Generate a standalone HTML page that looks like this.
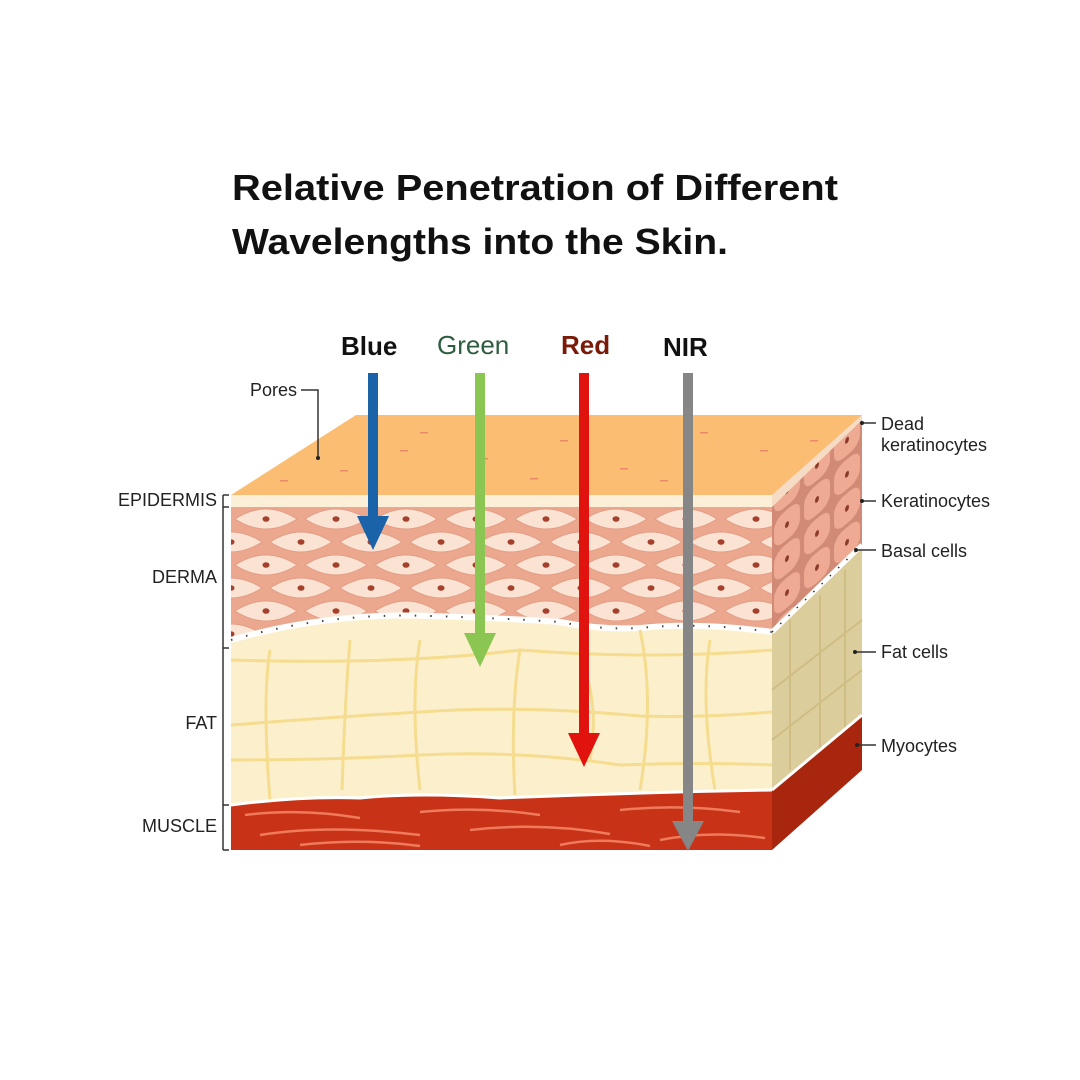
<!DOCTYPE html>
<html><head><meta charset="utf-8"><style>
html,body{margin:0;padding:0;background:#fff;width:1080px;height:1080px;overflow:hidden}
svg{display:block}
</style></head><body>
<svg width="1080" height="1080" viewBox="0 0 1080 1080" xmlns="http://www.w3.org/2000/svg">
<defs>
<pattern id="cells" x="231" y="507" width="70" height="46" patternUnits="userSpaceOnUse">
<rect width="70" height="46" fill="#eba88f"/>
<path d="M4 12 Q35 -8 66 12 Q35 32 4 12Z" fill="#fbe3d3" stroke="#e49c84" stroke-width="1"/>
<path d="M-31 35 Q0 15 31 35 Q0 55 -31 35Z" fill="#fbe3d3" stroke="#e49c84" stroke-width="1"/>
<path d="M39 35 Q70 15 101 35 Q70 55 39 35Z" fill="#fbe3d3" stroke="#e49c84" stroke-width="1"/>
<ellipse cx="35" cy="12" rx="3.5" ry="2.8" fill="#a4402c"/>
<ellipse cx="70" cy="35" rx="3.5" ry="2.8" fill="#a4402c"/>
<ellipse cx="0" cy="35" rx="3.5" ry="2.8" fill="#a4402c"/>
</pattern>
<pattern id="side" x="772" y="420" width="30" height="34" patternUnits="userSpaceOnUse" patternTransform="skewY(-40)">
<rect width="30" height="34" fill="#d08a76"/>
<rect x="2" y="2" width="26" height="30" rx="10" fill="#eeaa92"/>
<ellipse cx="15" cy="17" rx="2" ry="3" fill="#8a3a28"/>
</pattern>
</defs>

<text x="232" y="200" font-family="Liberation Sans, sans-serif" font-weight="bold" font-size="36" fill="#111" textLength="606" lengthAdjust="spacingAndGlyphs">Relative Penetration of Different</text>
<text x="232" y="254" font-family="Liberation Sans, sans-serif" font-weight="bold" font-size="36" fill="#111" textLength="496" lengthAdjust="spacingAndGlyphs">Wavelengths into the Skin.</text>

<g font-family="Liberation Sans, sans-serif" font-weight="bold" font-size="26">
<text x="341" y="355" fill="#111">Blue</text>
<text x="437" y="354" fill="#2e5e40" font-weight="normal">Green</text>
<text x="561" y="354" fill="#7a1a08">Red</text>
<text x="663" y="356" fill="#111">NIR</text>
</g>

<!-- top face -->
<polygon points="231,495 356,415 862,415 772,495" fill="#fbbd72"/>
<g fill="#e88a6a">
<rect x="420" y="432" width="8" height="1.5"/><rect x="560" y="440" width="8" height="1.5"/><rect x="700" y="432" width="8" height="1.5"/>
<rect x="340" y="470" width="8" height="1.5"/><rect x="480" y="458" width="8" height="1.5"/><rect x="620" y="468" width="8" height="1.5"/>
<rect x="760" y="450" width="8" height="1.5"/><rect x="810" y="440" width="8" height="1.5"/><rect x="280" y="480" width="8" height="1.5"/>
<rect x="530" y="478" width="8" height="1.5"/><rect x="660" y="480" width="8" height="1.5"/><rect x="400" y="450" width="8" height="1.5"/>
</g>
<rect x="231" y="495" width="541" height="12" fill="#fcefd8"/>
<path d="M231 507 H772 V632 Q700 622 640 628 Q600 630 560 622 Q500 618 430 616 Q330 612 231 640 Z" fill="url(#cells)"/>
<path d="M231 640 Q330 612 430 616 Q500 618 560 622 Q600 630 640 628 Q700 622 772 632 V790 Q650 792 500 798 Q420 792 360 798 Q300 796 231 805 Z" fill="#fcf0cc"/>
<path d="M231 640 Q330 612 430 616 Q500 618 560 622 Q600 630 640 628 Q700 622 772 632" fill="none" stroke="#fff" stroke-width="6"/>
<path d="M231 640 Q330 612 430 616 Q500 618 560 622 Q600 630 640 628 Q700 622 772 632" fill="none" stroke="#444" stroke-width="2" stroke-dasharray="1.5 14"/>
<g stroke="#f5dc8e" stroke-width="3" fill="none">
<path d="M231 660 Q400 665 520 650 Q650 660 772 650"/>
<path d="M231 725 Q350 716 420 712 Q520 705 640 716 Q700 718 772 712"/>
<path d="M231 760 Q330 760 420 755 Q520 750 620 765 Q700 762 772 765"/>
<path d="M270 650 Q262 700 270 800"/>
<path d="M350 640 Q345 700 342 790"/>
<path d="M420 640 Q410 700 420 790"/>
<path d="M520 650 Q510 710 515 795"/>
<path d="M580 660 Q600 700 590 760"/>
<path d="M640 630 Q655 700 640 790"/>
<path d="M710 640 Q700 700 715 790"/>
</g>
<path d="M231 805 Q300 796 360 798 Q420 792 500 798 Q650 792 772 790 V850 H231 Z" fill="#c83216"/>
<path d="M231 805 Q300 796 360 798 Q420 792 500 798 Q650 792 772 790" fill="none" stroke="#fff" stroke-width="3"/>
<g stroke="#ef7a5c" stroke-width="2.5" fill="none">
<path d="M245 815 Q300 808 360 818"/><path d="M420 812 Q480 806 540 815"/>
<path d="M260 835 Q330 824 420 835"/><path d="M470 830 Q540 822 610 834"/>
<path d="M620 810 Q680 804 740 812"/><path d="M660 840 Q710 830 765 838"/>
<path d="M300 845 Q360 838 420 846"/><path d="M560 845 Q600 836 650 846"/>
</g>
<polygon points="772,495 862,415 862,545 772,632" fill="url(#side)"/>
<polygon points="772,495 862,415 862,420 772,507" fill="#f6dcc4"/>
<polygon points="772,632 862,545 862,715 772,790" fill="#dccd9c"/>
<path d="M772 632 L862 545" stroke="#fff" stroke-width="5"/>
<path d="M772 632 L862 545" stroke="#333" stroke-width="1.5" stroke-dasharray="1.5 10"/>
<g stroke="#cfbd84" stroke-width="2" fill="none">
<path d="M790 620 V770"/><path d="M820 595 V750"/><path d="M845 570 V730"/>
<path d="M772 690 L862 620"/><path d="M772 740 L862 670"/>
</g>
<polygon points="772,790 862,715 862,770 772,850" fill="#a8260e"/>
<path d="M772 790 L862 715" stroke="#fff" stroke-width="3"/>

<g stroke="#333" stroke-width="1.5" fill="none">
<path d="M223 495 V850"/>
<path d="M223 495 H229 M223 507 H229 M223 648 H229 M223 805 H229 M223 850 H229"/>
<path d="M301 390 H318 V457"/>
<path d="M862 423 H876 M862 501 H876 M856 550 H876 M855 652 H876 M857 745 H876"/>
</g>
<g fill="#222"><circle cx="318" cy="458" r="2"/><circle cx="862" cy="423" r="2"/><circle cx="862" cy="501" r="2"/><circle cx="856" cy="550" r="2"/><circle cx="855" cy="652" r="2"/><circle cx="857" cy="745" r="2"/></g>

<g font-family="Liberation Sans, sans-serif" font-size="18" fill="#222">
<text x="250" y="396">Pores</text>
<text x="217" y="506" text-anchor="end">EPIDERMIS</text>
<text x="217" y="583" text-anchor="end">DERMA</text>
<text x="217" y="729" text-anchor="end">FAT</text>
<text x="217" y="832" text-anchor="end">MUSCLE</text>
<text x="881" y="430">Dead</text>
<text x="881" y="451">keratinocytes</text>
<text x="881" y="507">Keratinocytes</text>
<text x="881" y="557">Basal cells</text>
<text x="881" y="658">Fat cells</text>
<text x="881" y="752">Myocytes</text>
</g>

<rect x="368" y="373" width="10" height="145" fill="#1a63a8"/>
<polygon points="357,516 389,516 373,550" fill="#1a63a8"/>
<rect x="475" y="373" width="10" height="262" fill="#8bc653"/>
<polygon points="464,633 496,633 480,667" fill="#8bc653"/>
<rect x="579" y="373" width="10" height="362" fill="#e0130f"/>
<polygon points="568,733 600,733 584,767" fill="#e0130f"/>
<rect x="683" y="373" width="10" height="450" fill="#868686"/>
<polygon points="672,821 704,821 688,851" fill="#868686"/>
</svg>
</body></html>
